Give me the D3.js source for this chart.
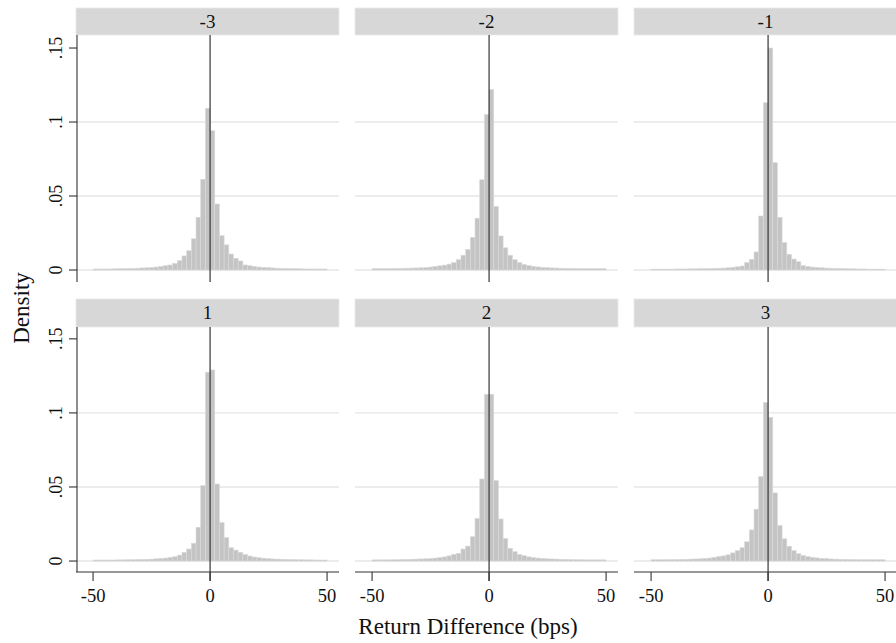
<!DOCTYPE html>
<html>
<head>
<meta charset="utf-8">
<script src="https://cdn.jsdelivr.net/npm/d3@7"></script>
<style>
  body { margin: 0; background: white; }
  text { font-family: "Liberation Serif", "Times New Roman", serif; fill: #111; }
</style>
</head>
<body>
<svg id="chart" width="896" height="643"></svg>
<script>
// panels (lag), bins are 2 bps wide from -50 to 50
var panelNames = ["-3", "-2", "-1", "1", "2", "3"]
var binWidth = 2
var binStarts = d3.range(-50, 50, binWidth)

var densM3 = [.0007,.0007,.0007,.0007,.0008,.0009,.0009,.0010,.0011,.0012,.0014,.0015,.0017,.0020,.0024,.0029,.0034,.0045,.0063,.0095,.0130,.0211,.0356,.0613,.1093,
              .0941,.0446,.0232,.0170,.0108,.0079,.0061,.0034,.0029,.0024,.0020,.0018,.0016,.0014,.0012,.0011,.0010,.0009,.0009,.0008,.0007,.0007,.0007,.0007,.0007]
var densM2 = [.0009,.0009,.0009,.0009,.0010,.0010,.0011,.0012,.0013,.0014,.0015,.0017,.0020,.0024,.0028,.0033,.0040,.0050,.0070,.0100,.0140,.0220,.0350,.0610,.1050,
              .1220,.0430,.0230,.0150,.0100,.0070,.0050,.0038,.0030,.0025,.0021,.0018,.0016,.0014,.0013,.0012,.0011,.0010,.0010,.0009,.0009,.0009,.0009,.0009,.0009]
var densM1 = [.0006,.0006,.0006,.0006,.0006,.0007,.0007,.0007,.0008,.0008,.0009,.0009,.0010,.0011,.0012,.0013,.0015,.0018,.0022,.0027,.0050,.0072,.0122,.0365,.1130,
              .1500,.0725,.0356,.0185,.0106,.0074,.0056,.0030,.0024,.0020,.0017,.0015,.0013,.0012,.0011,.0010,.0009,.0008,.0008,.0007,.0007,.0006,.0006,.0006,.0006]
var densP1 = [.0007,.0007,.0007,.0007,.0007,.0008,.0008,.0009,.0009,.0010,.0011,.0012,.0013,.0015,.0017,.0020,.0025,.0029,.0040,.0059,.0081,.0120,.0228,.0509,.1275,
              .1290,.0520,.0260,.0158,.0090,.0074,.0059,.0045,.0034,.0027,.0022,.0019,.0016,.0014,.0013,.0012,.0011,.0010,.0009,.0009,.0008,.0008,.0007,.0007,.0007]
var densP2 = [.0008,.0008,.0008,.0008,.0009,.0009,.0010,.0011,.0012,.0013,.0014,.0015,.0017,.0020,.0023,.0028,.0035,.0045,.0052,.0081,.0101,.0164,.0288,.0554,.1126,
              .1126,.0543,.0284,.0153,.0086,.0063,.0045,.0036,.0028,.0023,.0020,.0017,.0015,.0014,.0013,.0012,.0011,.0010,.0009,.0009,.0008,.0008,.0008,.0008,.0008]
var densP3 = [.0009,.0009,.0009,.0009,.0010,.0010,.0011,.0012,.0013,.0014,.0015,.0017,.0020,.0025,.0030,.0035,.0042,.0055,.0070,.0090,.0130,.0210,.0350,.0570,.1070,
              .0970,.0460,.0240,.0150,.0100,.0070,.0050,.0038,.0030,.0025,.0021,.0018,.0016,.0014,.0013,.0012,.0011,.0010,.0010,.0009,.0009,.0009,.0009,.0009,.0009]
var panelData = [densM3, densM2, densM1, densP1, densP2, densP3]

var xTicks = [-50, 0, 50]
var yTicks = [0, .05, .1, .15]
var yGrid = [0, .05, .1]
var yTickLabels = ["0", ".05", ".1", ".15"]

var svg = d3.select("#chart")

var colX = [76, 355, 634]
var colW = 263
// [stripTop, plotTop, plotBottom]
var rowY = [[8, 35, 282], [299, 327, 572]]

panelNames.forEach(function(name, i) {
    var col = i % 3, row = Math.floor(i / 3)
    var x0 = colX[col], x1 = x0 + colW
    var ry = rowY[row]
    var x = d3.scaleLinear().domain([-57.3, 55.1]).range([x0, x1])
    var y = d3.scaleLinear().domain([row == 0 ? -0.0081 : -0.0074, row == 0 ? 0.1588 : 0.158]).range([ry[2], ry[1]])
    var g = svg.append("g")

    // strip
    g.append("rect").attr("x", x0).attr("y", ry[0]).attr("width", colW).attr("height", ry[1] - ry[0])
        .attr("fill", "#d7d7d7").attr("stroke", "#e8e8e8").attr("stroke-width", 0.8)
    g.append("text").attr("x", (x0 + x1) / 2).attr("y", ry[0] + 20)
        .attr("text-anchor", "middle").style("font-size", "19px").text(name)

    // grid
    g.selectAll(".grid").data(yGrid).enter().append("line")
        .attr("x1", x0).attr("x2", x1)
        .attr("y1", d => y(d)).attr("y2", d => y(d))
        .attr("stroke", "#e6e6e6").attr("stroke-width", 1.4)

    // bars
    g.selectAll(".bar").data(panelData[i]).enter().append("rect")
        .attr("x", (d, k) => x(binStarts[k]))
        .attr("width", (d, k) => x(binStarts[k] + binWidth) - x(binStarts[k]))
        .attr("y", d => y(d))
        .attr("height", d => y(0) - y(d))
        .attr("fill", "#c4c4c4").attr("stroke", "#dadada").attr("stroke-width", 0.6)

    // zero reference line
    var lineBottom = row == 1 ? ry[2] + 9 : ry[2]
    g.append("line").attr("x1", x(0)).attr("x2", x(0)).attr("y1", ry[1]).attr("y2", lineBottom)
        .attr("stroke", "#222").attr("stroke-width", 1.1)

    // y axis on first column
    if (col == 0) {
        g.append("line").attr("x1", x0 + 1).attr("x2", x0 + 1).attr("y1", ry[1]).attr("y2", ry[2])
            .attr("stroke", "#333").attr("stroke-width", 1.1)
        g.selectAll(".ytick").data(yTicks).enter().append("line")
            .attr("x1", x0 - 7).attr("x2", x0 + 1)
            .attr("y1", d => y(d)).attr("y2", d => y(d))
            .attr("stroke", "#333").attr("stroke-width", 1.1)
        g.selectAll(".ylab").data(yTicks).enter().append("text")
            .attr("transform", d => "translate(" + (x0 - 14) + "," + y(d) + ") rotate(-90)")
            .attr("text-anchor", "middle").style("font-size", "18px")
            .text((d, k) => yTickLabels[k])
    }

    // x axis on bottom row
    if (row == 1) {
        g.append("line").attr("x1", x0).attr("x2", x1).attr("y1", ry[2]).attr("y2", ry[2])
            .attr("stroke", "#333").attr("stroke-width", 1.1)
        g.selectAll(".xtick").data(xTicks).enter().append("line")
            .attr("x1", d => x(d)).attr("x2", d => x(d))
            .attr("y1", ry[2]).attr("y2", ry[2] + 9)
            .attr("stroke", "#333").attr("stroke-width", 1.1)
        g.selectAll(".xlab").data(xTicks).enter().append("text")
            .attr("x", d => x(d)).attr("y", ry[2] + 30)
            .attr("text-anchor", "middle").style("font-size", "18.5px")
            .text(d => d)
    }
})

svg.append("text").attr("transform", "translate(29,308) rotate(-90)")
    .attr("text-anchor", "middle").style("font-size", "23px").text("Density")
svg.append("text").attr("x", 468).attr("y", 634)
    .attr("text-anchor", "middle").style("font-size", "23px").text("Return Difference (bps)")
</script>
</body>
</html>
